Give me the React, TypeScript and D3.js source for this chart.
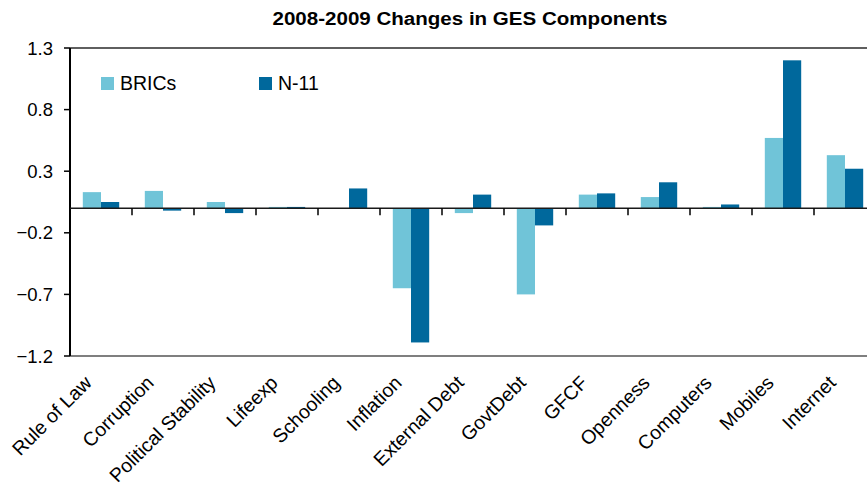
import React from "react";
import * as d3 from "d3";

// categories along the x axis
const categories = [
  "Rule of Law",
  "Corruption",
  "Political Stability",
  "Lifeexp",
  "Schooling",
  "Inflation",
  "External Debt",
  "GovtDebt",
  "GFCF",
  "Openness",
  "Computers",
  "Mobiles",
  "Internet",
];

// values
const brics = [0.13, 0.14, 0.05, 0.01, 0, -0.65, -0.04, -0.7, 0.11, 0.09, 0.01, 0.57, 0.43];
const n11 = [0.05, -0.02, -0.04, 0.01, 0.16, -1.09, 0.11, -0.14, 0.12, 0.21, 0.03, 1.2, 0.32];

const seriesNames = ["BRICs", "N-11"];
const seriesColors = ["#70c4d8", "#00689c"];

const yTicks = [-1.2, -0.7, -0.2, 0.3, 0.8, 1.3];

const W = 867;
const H = 487;
const margin = { top: 48, left: 70, bottom: 131 };
const step = 62; // width of one category
const plotRight = margin.left + step * categories.length;

export default function App() {
  const font = "'Liberation Sans', Arial, sans-serif";

  const x = d3
    .scaleBand<string>()
    .domain(categories)
    .range([margin.left, plotRight])
    .paddingInner(0.413)
    .paddingOuter(0.2065);

  const xs = d3
    .scaleBand<string>()
    .domain(seriesNames)
    .range([0, x.bandwidth()]);

  const y = d3
    .scaleLinear()
    .domain([-1.2, 1.3])
    .range([H - margin.bottom, margin.top]);

  const series = [brics, n11];
  const y0 = y(0);
  const fmt = d3.format(".1f");

  return (
    <svg
      width={W}
      height={H}
      style={{ position: "absolute", left: 0, top: 0, background: "#fff" }}
      fontFamily={font}
    >
      <text
        x={470}
        y={25}
        textAnchor="middle"
        fontWeight="bold"
        fontSize={18}
        textLength={395}
        lengthAdjust="spacingAndGlyphs"
        fill="#000"
      >
        2008-2009 Changes in GES Components
      </text>

      {/* frame lines */}
      <line x1={margin.left} x2={W} y1={y(1.3)} y2={y(1.3)} stroke="#2a2a2a" strokeWidth={1.5} />
      <line x1={margin.left} x2={W} y1={y(-1.2)} y2={y(-1.2)} stroke="#555" strokeWidth={1.5} />

      {/* bars */}
      {series.map((vals, si) =>
        vals.map((v, i) => (
          <rect
            key={`${si}-${i}`}
            x={(x(categories[i]) as number) + (xs(seriesNames[si]) as number)}
            y={Math.min(y(v), y0)}
            width={xs.bandwidth()}
            height={Math.abs(y(v) - y0)}
            fill={seriesColors[si]}
          />
        ))
      )}

      {/* y axis */}
      <line x1={margin.left} x2={margin.left} y1={y(1.3)} y2={y(-1.2)} stroke="#000" strokeWidth={2} />
      {yTicks.map((t) => (
        <g key={t}>
          <line x1={margin.left - 6} x2={margin.left} y1={y(t)} y2={y(t)} stroke="#000" strokeWidth={1.5} />
          <text x={53} y={y(t) + 6.5} textAnchor="end" fontSize={18.5} fill="#000">
            {fmt(t)}
          </text>
        </g>
      ))}

      {/* x axis at zero */}
      <line x1={margin.left} x2={W} y1={y0} y2={y0} stroke="#1a1a1a" strokeWidth={1.5} />
      {categories.map((c, i) =>
        i === 0 ? null : (
          <line
            key={c}
            x1={margin.left + step * i}
            x2={margin.left + step * i}
            y1={y0}
            y2={y0 + 7}
            stroke="#000"
            strokeWidth={1.5}
          />
        )
      )}

      {/* category labels */}
      {categories.map((c) => {
        const cx = (x(c) as number) + x.bandwidth() / 2 - 8;
        const cy = 384;
        return (
          <text
            key={c}
            x={cx}
            y={cy}
            textAnchor="end"
            fontSize={19.5}
            fill="#000"
            transform={`rotate(-45 ${cx} ${cy})`}
          >
            {c}
          </text>
        );
      })}

      {/* legend */}
      {seriesNames.map((s, i) => {
        const lx = [101, 259][i];
        return (
          <g key={s}>
            <rect x={lx} y={77} width={13} height={13} fill={seriesColors[i]} />
            <text x={lx + 19} y={89.5} fontSize={19.5} fill="#000">
              {s}
            </text>
          </g>
        );
      })}
    </svg>
  );
}
